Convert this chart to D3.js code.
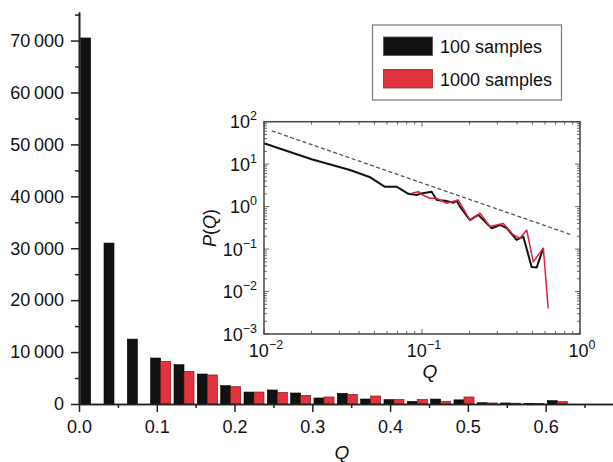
<!DOCTYPE html>
<html><head><meta charset="utf-8">
<script src="https://cdn.jsdelivr.net/npm/d3@7"></script>
<style>
body{margin:0;background:#fff;}
text{font-family:"Liberation Sans",Arial,Helvetica,sans-serif;fill:#111;}
</style></head>
<body><svg id="c" width="613" height="462"></svg>
<script>
// ---- data ----
const binCenters = [0.015,0.045,0.075,0.105,0.135,0.165,0.195,0.225,0.255,0.285,0.315,0.345,0.375,0.405,0.435,0.465,0.495,0.525,0.555,0.585,0.615];
const counts100  = [70500,31000,12500,8860,7570,5780,3530,2300,2700,2120,1160,2040,960,830,500,950,800,250,200,100,640];
const counts1000 = [0,0,0,8200,6280,5590,3330,2300,2240,1660,1350,1850,1540,850,850,480,1350,200,150,100,450];
const seriesNames = ["100 samples","1000 samples"];
const yTicksMajor = [0,10000,20000,30000,40000,50000,60000,70000];
const yTicksMinor = [5000,15000,25000,35000,45000,55000,65000,75000];
const xTicksMajor = [0,0.1,0.2,0.3,0.4,0.5,0.6];
const xTicksMinor = [0.05,0.15,0.25,0.35,0.45,0.55,0.65];

// inset: P(Q) log-log
const insetQ100 = [0.01,0.020,0.035,0.047,0.058,0.069,0.082,0.0925,0.097,0.115,0.124,0.140,0.158,0.166,0.174,0.201,0.227,0.276,0.312,0.344,0.397,0.438,0.494,0.532,0.586];
const insetP100 = [31,13.0,7.3,4.9,2.95,2.95,2.0,1.88,2.0,2.25,1.43,1.38,1.24,1.38,1.0,0.48,0.64,0.31,0.37,0.31,0.164,0.196,0.038,0.037,0.105];
const insetQ1000 = [0.086,0.095,0.101,0.112,0.124,0.143,0.170,0.201,0.233,0.269,0.327,0.379,0.417,0.460,0.506,0.586,0.629];
const insetP1000 = [2.06,2.25,1.88,1.57,1.57,1.2,1.43,0.48,0.70,0.34,0.40,0.215,0.18,0.28,0.050,0.105,0.004];
const fitQ = [0.0112,0.865];
const fitP = [61,0.223];
const insetXTicks = [1e-2,1e-1,1e0];
const insetYTicks = [1e-3,1e-2,1e-1,1e0,1e1,1e2];

const colBlack = "#111111", colRed = "#e2323d";
const svg = d3.select("#c");

// ---- main scales ----
const x = d3.scaleLinear().domain([0,0.687]).range([79,613.3]);
const y = d3.scaleLinear().domain([0,75500]).range([404,12]);
const barW = 10;

const gBars = svg.append("g");
binCenters.forEach((c,i)=>{
  const cx = x(c);
  if(counts100[i]>0) gBars.append("rect").attr("x",cx-barW).attr("width",barW)
    .attr("y",y(counts100[i])).attr("height",y(0)-y(counts100[i]))
    .attr("fill",colBlack).attr("stroke","#000").attr("stroke-width",0.6);
  if(counts1000[i]>0) gBars.append("rect").attr("x",cx).attr("width",barW)
    .attr("y",y(counts1000[i])).attr("height",y(0)-y(counts1000[i]))
    .attr("fill",colRed).attr("stroke","#7e1b22").attr("stroke-width",0.7);
});

function styleAxis(g){
  g.selectAll("path.domain").attr("stroke","#222").attr("stroke-width",1.6);
  g.selectAll(".tick line").attr("stroke","#222").attr("stroke-width",1.5);
  g.selectAll("text").style("font-size","18px").attr("fill","#111");
}
const fmtY = v => v===0 ? "0" : d3.format(",")(v).replace(",", "\u2009");
// y axis
const yMinor = svg.append("g").attr("transform","translate(79,0)")
  .call(d3.axisLeft(y).tickValues(yTicksMinor).tickSize(4).tickFormat("").tickSizeOuter(0));
yMinor.call(styleAxis);
const yAx = svg.append("g").attr("transform","translate(79,0)")
  .call(d3.axisLeft(y).tickValues(yTicksMajor).tickSize(8).tickPadding(7).tickFormat(fmtY).tickSizeOuter(0));
yAx.call(styleAxis);
// x axis
const xMinor = svg.append("g").attr("transform","translate(0,404)")
  .call(d3.axisBottom(x).tickValues(xTicksMinor).tickSize(4).tickFormat("").tickSizeOuter(0));
xMinor.call(styleAxis);
const xAx = svg.append("g").attr("transform","translate(0,404)")
  .call(d3.axisBottom(x).tickValues(xTicksMajor).tickSize(8).tickPadding(8).tickFormat(d3.format(".1f")).tickSizeOuter(0));
xAx.call(styleAxis);
svg.append("text").attr("x",342).attr("y",459).attr("text-anchor","middle")
  .style("font-size","19px").style("font-style","italic").text("Q");

// ---- legend ----
const lg = svg.append("g");
lg.append("rect").attr("x",372.5).attr("y",25).attr("width",189).attr("height",75)
  .attr("fill","#fff").attr("stroke","#777").attr("stroke-width",1.2);
[[colBlack,"#555"],[colRed,"#8a2a2a"]].forEach((c,i)=>{
  lg.append("rect").attr("x",383.5).attr("y",37+i*32.5).attr("width",49).attr("height",18.5)
    .attr("fill",c[0]).attr("stroke",c[1]).attr("stroke-width",0.8);
  lg.append("text").attr("x",440).attr("y",53+i*32.5).style("font-size","18px").text(seriesNames[i]);
});

// ---- inset ----
const ix = d3.scaleLog().domain([1e-2,1]).range([264,580]);
const iy = d3.scaleLog().domain([1e-3,1e2]).range([334,121.7]);
const ig = svg.append("g");
ig.append("rect").attr("x",264).attr("y",121.7).attr("width",316).attr("height",212.3)
  .attr("fill","#fff");
// minor ticks
const xMinorLog = [], yMinorLog = [];
for(let e=-2;e<0;e++) for(let m=2;m<10;m++) xMinorLog.push(m*Math.pow(10,e));
for(let e=-3;e<2;e++) for(let m=2;m<10;m++) yMinorLog.push(m*Math.pow(10,e));
const tk = ig.append("g").attr("stroke","#555").attr("stroke-width",0.9);
insetXTicks.forEach(v=>{
  tk.append("line").attr("x1",ix(v)).attr("x2",ix(v)).attr("y1",334).attr("y2",329);
  tk.append("line").attr("x1",ix(v)).attr("x2",ix(v)).attr("y1",121.7).attr("y2",126.7);
});
xMinorLog.forEach(v=>{
  tk.append("line").attr("x1",ix(v)).attr("x2",ix(v)).attr("y1",334).attr("y2",331);
  tk.append("line").attr("x1",ix(v)).attr("x2",ix(v)).attr("y1",121.7).attr("y2",124.7);
});
insetYTicks.forEach(v=>{
  tk.append("line").attr("x1",264).attr("x2",269).attr("y1",iy(v)).attr("y2",iy(v));
  tk.append("line").attr("x1",580).attr("x2",575).attr("y1",iy(v)).attr("y2",iy(v));
});
yMinorLog.forEach(v=>{
  tk.append("line").attr("x1",264).attr("x2",267).attr("y1",iy(v)).attr("y2",iy(v));
  tk.append("line").attr("x1",580).attr("x2",577).attr("y1",iy(v)).attr("y2",iy(v));
});
// fit line
ig.append("path").datum(fitQ.map((q,i)=>[q,fitP[i]]))
  .attr("d",d3.line().x(d=>ix(d[0])).y(d=>iy(d[1])))
  .attr("fill","none").attr("stroke","#555").attr("stroke-width",1.3).attr("stroke-dasharray","4,2.5");
// curves
ig.append("path").datum(insetQ100.map((q,i)=>[q,insetP100[i]]))
  .attr("d",d3.line().x(d=>ix(d[0])).y(d=>iy(d[1])))
  .attr("fill","none").attr("stroke",colBlack).attr("stroke-width",2).attr("stroke-linejoin","round");
ig.append("path").datum(insetQ1000.map((q,i)=>[q,insetP1000[i]]))
  .attr("d",d3.line().x(d=>ix(d[0])).y(d=>iy(d[1])))
  .attr("fill","none").attr("stroke","#e0203a").attr("stroke-width",1.5).attr("stroke-linejoin","round");
ig.append("rect").attr("x",264).attr("y",121.7).attr("width",316).attr("height",212.3)
  .attr("fill","none").attr("stroke","#444").attr("stroke-width",1.5);
// labels
const expo = v => Math.round(Math.log10(v));
const sup = n => n<0 ? "\u2212"+(-n) : String(n);
insetYTicks.forEach(v=>{
  const t = ig.append("text").attr("x",257).attr("y",iy(v)+6.5).attr("text-anchor","end").style("font-size","18px");
  t.append("tspan").text("10");
  t.append("tspan").attr("dy",-8).style("font-size","12.5px").text(sup(expo(v)));
});
insetXTicks.forEach(v=>{
  const t = ig.append("text").attr("x",ix(v)+2).attr("y",356.5).attr("text-anchor","middle").style("font-size","18px");
  t.append("tspan").text("10");
  t.append("tspan").attr("dy",-8).style("font-size","12.5px").text(sup(expo(v)));
});
ig.append("text").attr("x",430).attr("y",378).attr("text-anchor","middle")
  .style("font-size","19px").style("font-style","italic").text("Q");
const pl = ig.append("text").attr("transform","translate(216,228) rotate(-90)").attr("text-anchor","middle").style("font-size","18px");
pl.append("tspan").style("font-style","italic").text("P");
pl.append("tspan").text("(");
pl.append("tspan").style("font-style","italic").text("Q");
pl.append("tspan").text(")");
</script></body></html>
